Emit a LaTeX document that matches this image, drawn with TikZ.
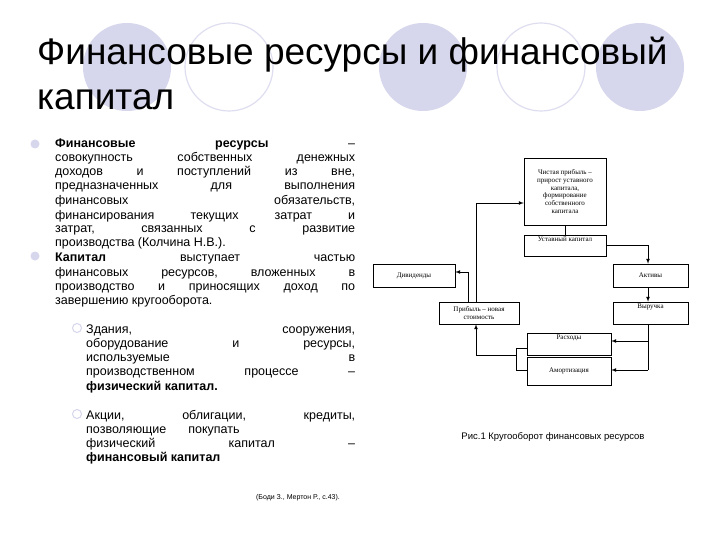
\documentclass[tikz,border=0pt]{standalone}
\usepackage{fontspec}
\setmainfont{Liberation Sans}
\newfontfamily\tnr{Liberation Serif}
\definecolor{lav}{RGB}{214,214,236}
\definecolor{lavl}{RGB}{222,222,240}
\begin{document}
\begin{tikzpicture}[x=1pt,y=-1pt,
  bx/.style={draw,line width=0.5pt,font=\tnr\fontsize{7}{7.8}\selectfont,align=center,inner sep=1pt},
  ar/.style={-latex,line width=0.7pt},
  ln/.style={line width=0.7pt},
  txt/.style={font=\fontsize{12.5}{14}\selectfont}]
\useasboundingbox (0,0) rectangle (720,540);
\fill[white] (0,0) rectangle (720,540);
% circles
\foreach \x in {127,423,640}{\fill[lav] (\x,67) circle (44);}
\foreach \x in {229,541}{\draw[lavl,line width=1.2pt] (\x,67) circle (44);}
% title
\node[anchor=base west,inner sep=0,font=\fontsize{37}{40}\selectfont] (t1) at (37,65) {Финансовые ресурсы и финансовый};
\node[anchor=base west,inner sep=0,font=\fontsize{37}{40}\selectfont] (t2) at (37,110) {капитал};
% bullets
\fill[lav] (35,144) circle (4.5);
\fill[lav] (35,256) circle (4.5);
\draw[lav,line width=1pt] (77,328) circle (4.5);
\draw[lav,line width=1pt] (77,414) circle (4.5);
\begin{scope}[txt]
\node[anchor=base west,inner sep=0,text width=300pt] (l1) at (55,148) {\textbf{Финансовые}\hfill\textbf{ресурсы}\hfill –};
\node[anchor=base west,inner sep=0,text width=300pt] (l2) at (55,162) {совокупность\hfill собственных\hfill денежных};
\node[anchor=base west,inner sep=0,text width=300pt] (l3) at (55,176) {доходов\hfill и\hfill поступлений\hfill из\hfill вне,};
\node[anchor=base west,inner sep=0,text width=300pt] (l4) at (55,190) {предназначенных\hfill для\hfill выполнения};
\node[anchor=base west,inner sep=0,text width=300pt] (l5) at (55,205) {финансовых\hfill обязательств,};
\node[anchor=base west,inner sep=0,text width=300pt] (l6) at (55,219) {финансирования\hfill текущих\hfill затрат\hfill и};
\node[anchor=base west,inner sep=0,text width=300pt] (l7) at (55,233) {затрат,\hfill связанных\hfill с\hfill развитие};
\node[anchor=base west,inner sep=0] (l8) at (55,247) {производства (Колчина Н.В.).};
\node[anchor=base west,inner sep=0,text width=300pt] (l9) at (55,261) {\textbf{Капитал}\hfill выступает\hfill частью};
\node[anchor=base west,inner sep=0,text width=300pt] (l10) at (55,276) {финансовых\hfill ресурсов,\hfill вложенных\hfill в};
\node[anchor=base west,inner sep=0,text width=300pt] (l11) at (55,290) {производство\hfill и\hfill приносящих\hfill доход\hfill по};
\node[anchor=base west,inner sep=0] (l12) at (55,304) {завершению кругооборота.};
\node[anchor=base west,inner sep=0,text width=269pt] (l13) at (86,333) {Здания,\hfill сооружения,};
\node[anchor=base west,inner sep=0,text width=269pt] (l14) at (86,347) {оборудование\hfill и\hfill ресурсы,};
\node[anchor=base west,inner sep=0,text width=269pt] (l15) at (86,361) {используемые\hfill в};
\node[anchor=base west,inner sep=0,text width=269pt] (l16) at (86,375) {производственном\hfill процессе\hfill –};
\node[anchor=base west,inner sep=0] (l17) at (86,390) {\textbf{физический капитал.}};
\node[anchor=base west,inner sep=0,text width=269pt] (l18) at (86,419) {Акции,\hfill облигации,\hfill кредиты,};
\node[anchor=base west,inner sep=0] (l19) at (86,433) {позволяющие\hspace{22pt}покупать};
\node[anchor=base west,inner sep=0,text width=269pt] (l20) at (86,447) {физический\hfill капитал\hfill –};
\node[anchor=base west,inner sep=0] (l21) at (86,461) {\textbf{финансовый капитал}};
\end{scope}
\node[font=\fontsize{7}{8}\selectfont,inner sep=0] (cit) at (298,498) {(Боди З., Мертон Р., с.43).};
\node[font=\fontsize{9.5}{11}\selectfont,inner sep=0] (cap) at (553,437) {Рис.1 Кругооборот финансовых ресурсов};
% diagram
\node[bx,minimum width=82pt,minimum height=67pt] (np) at (565,191.5) {Чистая прибыль –\\прирост уставного\\капитала,\\формирование\\собственного\\капитала};
\node[bx,minimum width=82pt,minimum height=21pt,anchor=north] (uk) at (565,235) {Уставный капитал\\[5pt]};
\node[bx,minimum width=82pt,minimum height=23pt] (dv) at (414,275.5) {Дивиденды};
\node[bx,minimum width=75pt,minimum height=23pt] (ak) at (650.5,275.5) {Активы};
\node[bx,minimum width=80pt,minimum height=22pt] (pr) at (479,313) {Прибыль – новая\\стоимость};
\node[bx,minimum width=75pt,minimum height=22pt] (vy) at (650.5,313) {Выручка\\[5pt]};
\node[bx,minimum width=84pt,minimum height=22pt] (rs) at (569,344) {Расходы\\[5pt]};
\node[bx,minimum width=84pt,minimum height=28pt,anchor=north] (am) at (569,356.5) {Амортизация};
\draw[ln] (np.south) -- (uk.north);
\draw[ar] (pr.north -| 476,0) |- (np.west |- 0,203);
\draw[ar] (pr.north -| 468,0) |- (dv.east |- 0,272);
\draw[ar] (uk.east |- 0,245) -| (648,0 |- ak.north);
\draw[ar] (ak.south -| 648,0) -- (vy.north -| 648,0);
\coordinate (r1) at (648,370);
\draw[ln] (vy.south -| 648,0) -- (r1);
\draw[ar] (648,341) -- (rs.east |- 0,341);
\draw[ar] (r1) -- (am.east |- 0,370);
\coordinate (b1) at (516,348);
\draw[ln] (rs.west |- 0,348) -- (b1) |- (am.west |- 0,370);
\draw[ar] (b1 |- 0,355) -| (pr.south -| 476,0);
\end{tikzpicture}
\end{document}
